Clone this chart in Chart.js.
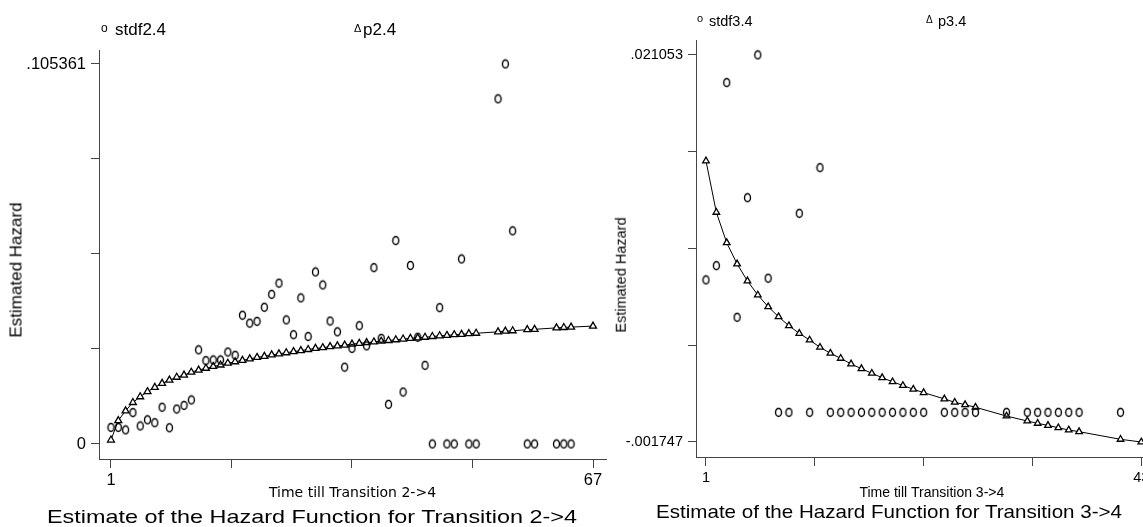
<!DOCTYPE html>
<html>
<head>
<meta charset="utf-8">
<script src="https://cdn.jsdelivr.net/npm/chart.js@4.4.0/dist/chart.umd.min.js"></script>
<style>
  html, body { margin: 0; padding: 0; background: #fff; }
  body { width: 1143px; height: 527px; overflow: hidden; position: relative; font-family: "Liberation Sans", Arial, sans-serif; color: #000; }
  canvas { position: absolute; top: 0; }
  #left { left: 0; }
  #right { left: 608px; }
  .txt { position: absolute; white-space: nowrap; line-height: 1; transform-origin: 0 0; }
  .vtxt { position: absolute; white-space: nowrap; line-height: 1; transform: translate(-50%, -50%) rotate(-90deg); }
</style>
</head>
<body>
<canvas id="left" width="640" height="527"></canvas>
<canvas id="right" width="565" height="527"></canvas>

<div class="txt" style="left:101px;top:22px;font-size:12px">o</div>
<div class="txt" style="left:115px;top:21px;font-size:17px">stdf2.4</div>
<div class="txt" style="left:354px;top:23px;font-size:11px">Δ</div>
<div class="txt" style="left:363px;top:21px;font-size:17px">p2.4</div>

<div class="txt" style="left:697px;top:13px;font-size:11px">o</div>
<div class="txt" style="left:709px;top:14px;font-size:14.5px">stdf3.4</div>
<div class="txt" style="left:926px;top:15px;font-size:10px">Δ</div>
<div class="txt" style="left:938px;top:14px;font-size:14.5px">p3.4</div>

<div class="vtxt" style="left:16px;top:270px;font-size:17px">Estimated Hazard</div>
<div class="vtxt" style="left:621px;top:275px;font-size:14.5px">Estimated Hazard</div>

<div class="txt fit" data-w="530" style="left:47px;top:508px;font-size:18.5px">Estimate of the Hazard Function for Transition 2-&gt;4</div>
<div class="txt fit" data-w="466" style="left:656px;top:504px;font-size:17.7px">Estimate of the Hazard Function for Transition 3-&gt;4</div>

<script>
// transition 2->4
const time24 = [1,2,3,4,5,6,7,8,9,10,11,12,13,14,15,16,17,18,19,20,21,22,23,24,25,26,27,28,29,30,
  31,32,33,34,35,36,37,38,39,40,41,42,43,44,45,46,47,48,49,50,51,52,53,54,55,56,57,58,59,60,
  61,62,63,64,65,66,67];
const stdf24 = [
  0.0046, 0.0046, 0.0039, 0.0087, 0.0050, 0.0067, 0.0059, 0.0102, 0.0045, 0.0097,
  0.0107, 0.0122, 0.0261, 0.0231, 0.0233, 0.0233, 0.0255, 0.0246, 0.0357, 0.0335,
  0.0340, 0.0379, 0.0415, 0.0446, 0.0344, 0.0303, 0.0405, 0.0298, 0.0477, 0.0441,
  0.0341, 0.0311, 0.0213, 0.0265, 0.0328, 0.0272, 0.0489, 0.0293, 0.0110, 0.0564,
  0.0144, 0.0495, 0.0296, 0.0218, 0, 0.0378, 0, 0, 0.0513, 0,
  0, null, null, 0.0957, 0.105361, 0.0591, null, 0, 0, null,
  null, 0, 0, 0, null, null, null
];
const p24 = [
  0.0011, 0.0065, 0.0092, 0.0115, 0.0131, 0.0145, 0.0157, 0.0168, 0.0177, 0.0185,
  0.0191, 0.0199, 0.0205, 0.0210, 0.0215, 0.0219, 0.0224, 0.0228, 0.0232, 0.0236,
  0.0240, 0.0243, 0.0247, 0.0250, 0.0253, 0.0256, 0.0259, 0.0262, 0.0265, 0.0267,
  0.0270, 0.0272, 0.0274, 0.0277, 0.0279, 0.0281, 0.0283, 0.0285, 0.0287, 0.0289,
  0.0291, 0.0293, 0.0294, 0.0296, 0.0298, 0.0300, 0.0301, 0.0303, 0.0304, 0.0306,
  0.0307, null, null, 0.0311, 0.0313, 0.0314, null, 0.0317, 0.0318, null,
  null, 0.0322, 0.0323, 0.0324, null, null, 0.0327
];
const xTicks24 = [1, 17.5, 34, 50.5, 67];
const xTickText24 = ['1', '', '', '', '67'];
const yTicks24 = [0, 0.02634, 0.05268, 0.07902, 0.105361];
const yTickText24 = ['0', '', '', '', '.105361'];

// transition 3->4
const time34 = [1,2,3,4,5,6,7,8,9,10,11,12,13,14,15,16,17,18,19,20,21,22,23,24,25,26,27,28,29,30,
  31,32,33,34,35,36,37,38,39,40,41,42,43];
const stdf34 = [
  0.00780, 0.00864, 0.01942, 0.00560, 0.01264, 0.021053, 0.00790, 0, 0, 0.01172,
  0, 0.01441, 0, 0, 0, 0, 0, 0, 0, 0,
  0, 0, null, 0, 0, 0, 0, null, null, 0,
  null, 0, 0, 0, 0, 0, 0, null, null, null,
  0, null, null
];
const p34 = [
  0.01481, 0.01178, 0.00999, 0.00874, 0.00774, 0.00691, 0.00622, 0.00563, 0.00510, 0.00465,
  0.00426, 0.00383, 0.00348, 0.00318, 0.00285, 0.00257, 0.00230, 0.00204, 0.00180, 0.00158,
  0.00136, 0.00116, null, 0.00079, 0.00059, 0.00045, 0.00030, null, null, -0.00022,
  null, -0.00051, -0.00065, -0.00077, -0.00091, -0.00104, -0.00114, null, null, null,
  -0.00159, null, -0.001747
];
const xTicks34 = [1, 11.5, 22, 32.5, 43];
const xTickText34 = ['1', '', '', '', '43'];
const yTicks34 = [-0.001747, 0.003953, 0.009653, 0.015353, 0.021053];
const yTickText34 = ['-.001747', '', '', '', '.021053'];

function toPoints(xs, ys) {
  const pts = [];
  xs.forEach((x, i) => { if (ys[i] !== null) pts.push({ x: x, y: ys[i] }); });
  return pts;
}

// hollow "o" marker, a bit taller than wide
function ovalMark(w, h) {
  const c = document.createElement('canvas');
  c.width = w + 3; c.height = h + 3;
  const g = c.getContext('2d');
  g.strokeStyle = '#000';
  g.lineWidth = 1.4;
  g.beginPath();
  g.ellipse(c.width / 2, c.height / 2, w / 2, h / 2, 0, 0, Math.PI * 2);
  g.stroke();
  return c;
}

function makeChart(id, cfg) {
  const tickFont = { family: 'Liberation Sans', size: cfg.tickSize };
  return new Chart(document.getElementById(id), {
    type: 'scatter',
    data: {
      datasets: [
        {
          label: cfg.names[0],
          data: toPoints(cfg.time, cfg.stdf),
          pointStyle: ovalMark(6, 8),
          pointRadius: 4,
          showLine: false
        },
        {
          label: cfg.names[1],
          data: toPoints(cfg.time, cfg.pred),
          showLine: true,
          borderColor: '#000',
          borderWidth: 1,
          pointStyle: 'triangle',
          pointRadius: cfg.triSize,
          pointBorderColor: '#000',
          pointBorderWidth: 1.3,
          pointBackgroundColor: '#fff',
          tension: 0
        }
      ]
    },
    options: {
      responsive: false,
      animation: false,
      events: [],
      layout: { padding: cfg.padding },
      plugins: { legend: { display: false }, tooltip: { enabled: false }, title: { display: false } },
      scales: {
        x: {
          type: 'linear',
          min: cfg.xRange[0], max: cfg.xRange[1],
          afterBuildTicks: s => { s.ticks = cfg.xTicks.map(v => ({ value: v })); },
          afterFit: s => { s.height = cfg.xHeight; },
          grid: { drawOnChartArea: false, drawTicks: true, tickLength: 9, color: '#444' },
          border: { display: true, color: '#444', width: 1 },
          ticks: { callback: (v, i) => cfg.xText[i], font: tickFont, color: '#000', padding: 3, maxRotation: 0, autoSkip: false },
          title: { display: true, text: cfg.xTitle, font: cfg.xTitleFont, color: '#000', padding: { top: 0, bottom: 0 } }
        },
        y: {
          type: 'linear',
          min: cfg.yRange[0], max: cfg.yRange[1],
          afterBuildTicks: s => { s.ticks = cfg.yTicks.map(v => ({ value: v })); },
          afterFit: s => { s.width = cfg.yWidth; },
          grid: { drawOnChartArea: false, drawTicks: true, tickLength: 8, color: '#444' },
          border: { display: true, color: '#444', width: 1 },
          ticks: { callback: (v, i) => cfg.yText[i], font: tickFont, color: '#000', padding: 5, autoSkip: false }
        }
      }
    }
  });
}

makeChart('left', {
  names: ['stdf2.4', 'p2.4'],
  time: time24, stdf: stdf24, pred: p24,
  xTicks: xTicks24, xText: xTickText24, yTicks: yTicks24, yText: yTickText24,
  xRange: [-0.64, 68.78], yRange: [-0.00416, 0.10924],
  padding: { left: 0, top: 50, right: 34, bottom: 25 },
  xHeight: 43, yWidth: 99,
  tickSize: 16.5, triSize: 4,
  xTitle: 'Time till Transition 2->4',
  xTitleFont: { family: 'DejaVu Sans', size: 14 }
});

makeChart('right', {
  names: ['stdf3.4', 'p3.4'],
  time: time34, stdf: stdf34, pred: p34,
  xTicks: xTicks34, xText: xTickText34, yTicks: yTicks34, yText: yTickText34,
  xRange: [0.036, 45.55], yRange: [-0.002631, 0.02193],
  padding: { left: 0, top: 40, right: 0, bottom: 25 },
  xHeight: 45, yWidth: 88,
  tickSize: 14.5, triSize: 3.8,
  xTitle: 'Time till Transition 3->4',
  xTitleFont: { family: 'Liberation Sans', size: 14 }
});

// stretch the bottom titles to the width they take in the picture
document.querySelectorAll('.fit').forEach(el => {
  const w = el.getBoundingClientRect().width;
  el.style.transform = 'scaleX(' + (parseFloat(el.dataset.w) / w) + ')';
});
</script>
</body>
</html>
